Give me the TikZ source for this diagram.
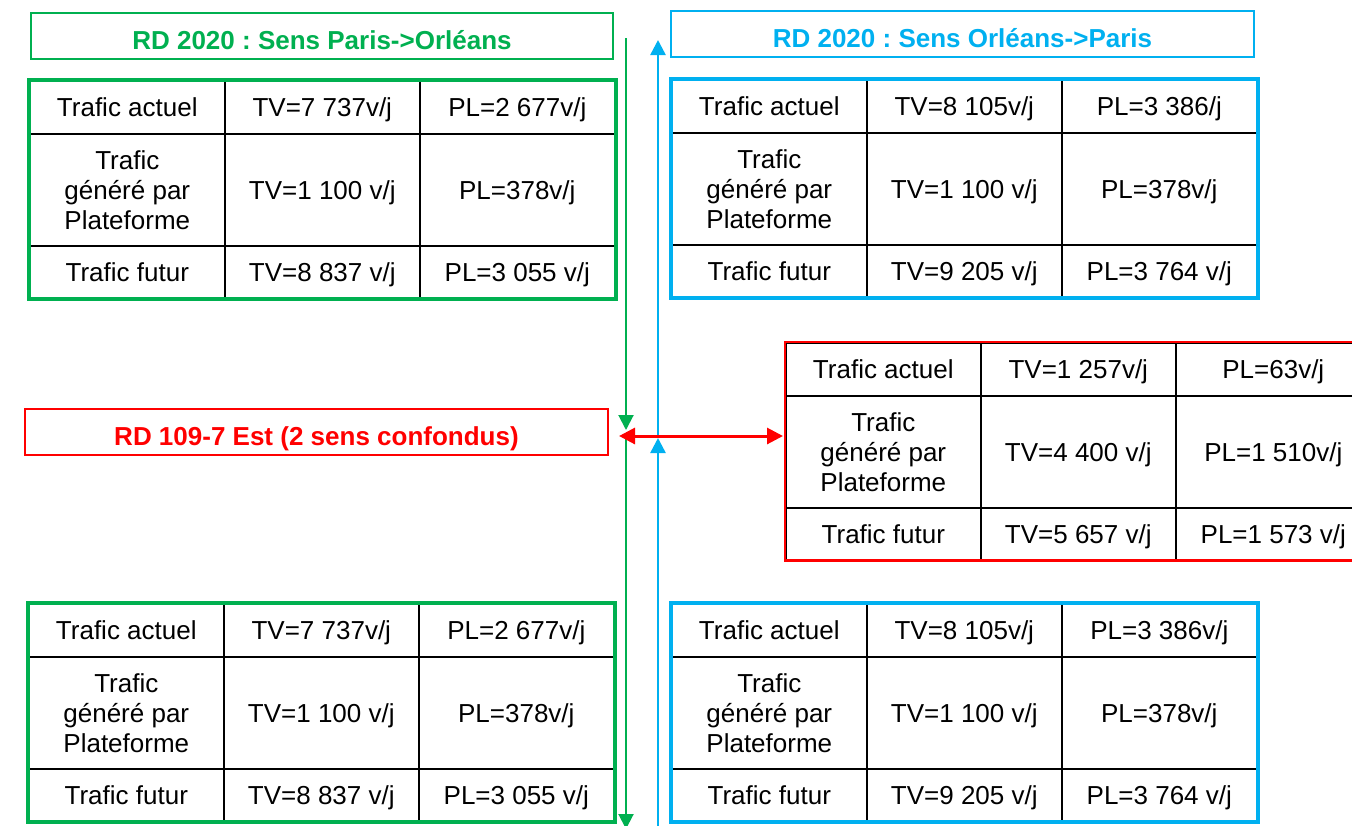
\documentclass[tikz,border=0pt]{standalone}
\usepackage{fontspec}
\setmainfont{Liberation Sans}
\usetikzlibrary{arrows.meta}
\definecolor{vert}{RGB}{0,176,80}
\definecolor{bleu}{RGB}{0,176,240}
\definecolor{rouge}{RGB}{255,0,0}
\frenchspacing
\tikzset{
  cell/.style={draw=black, line width=1.6pt, inner sep=0pt, anchor=north west, align=center,
    font=\fontsize{26}{30}\selectfont, minimum width=195pt},
  onecell/.style={cell, text depth=0pt},
  titlebox/.style={draw=#1, line width=2pt, text=#1, font=\fontsize{26}{30}\selectfont\bfseries,
    text height=26pt, text depth=0pt, minimum height=46pt, inner sep=0pt},
  garrow/.style={draw=vert, line width=2pt, -{Triangle[length=15pt,width=15pt]}},
  barrow/.style={draw=bleu, line width=2.5pt, -{Triangle[length=15pt,width=15pt]}},
  rarrow/.style={draw=rouge, line width=3pt, {Triangle[length=16pt,width=16pt]}-{Triangle[length=16pt,width=16pt]}},
}
\newcommand\trafictable[9]{%
  \begin{scope}[shift={(#3)}]
    \node[onecell, minimum height=53pt] (#1-11) at (0,0) {Trafic actuel};
    \node[onecell, minimum height=53pt] (#1-12) at (195,0) {#4};
    \node[onecell, minimum height=53pt] (#1-13) at (390,0) {#5};
    \node[cell, minimum height=112pt] (#1-21) at (0,53) {Trafic\\généré par\\Plateforme};
    \node[onecell, minimum height=112pt] (#1-22) at (195,53) {#6};
    \node[onecell, minimum height=112pt] (#1-23) at (390,53) {#7};
    \node[onecell, minimum height=52pt] (#1-31) at (0,165) {Trafic futur};
    \node[onecell, minimum height=52pt] (#1-32) at (195,165) {#8};
    \node[onecell, minimum height=52pt] (#1-33) at (390,165) {#9};
  \end{scope}
  \draw[line width=4pt, #2] (#1-11.north west) rectangle (#1-33.south east);
}
\begin{document}
\begin{tikzpicture}[x=1pt, y=-1pt]
  \useasboundingbox (0,0) rectangle (1352,825);
  \clip (0,0) rectangle (1352,825);
  \fill[white] (0,0) rectangle (1352,825);

  % titles
  \node[titlebox=vert, minimum width=582pt] (tg) at (322,36) {RD 2020 : Sens Paris->Orléans};
  \node[titlebox=bleu, minimum width=583pt] (tb) at (962.5,34) {RD 2020 : Sens Orléans->Paris};
  \node[titlebox=rouge, minimum width=583pt, line width=1.5pt] (tr) at (316.5,432) {RD 109-7 Est (2 sens confondus)};

  % tables
  \trafictable{t1}{vert}{29,80}{TV=7 737v/j}{PL=2 677v/j}{TV=1 100 v/j}{PL=378v/j}{TV=8 837 v/j}{PL=3 055 v/j}
  \trafictable{t2}{bleu}{671,79}{TV=8 105v/j}{PL=3 386/j}{TV=1 100 v/j}{PL=378v/j}{TV=9 205 v/j}{PL=3 764 v/j}
  \trafictable{t3}{rouge, line width=2.5pt}{785,342}{TV=1 257v/j}{PL=63v/j}{TV=4 400 v/j}{PL=1 510v/j}{TV=5 657 v/j}{PL=1 573 v/j}
  \trafictable{t4}{vert}{28,603}{TV=7 737v/j}{PL=2 677v/j}{TV=1 100 v/j}{PL=378v/j}{TV=8 837 v/j}{PL=3 055 v/j}
  \trafictable{t5}{bleu}{671,603}{TV=8 105v/j}{PL=3 386v/j}{TV=1 100 v/j}{PL=378v/j}{TV=9 205 v/j}{PL=3 764 v/j}

  % axes
  \coordinate (gtop) at (626,38);
  \coordinate (gtip) at (626,430);
  \coordinate (gx) at (626,436);
  \coordinate (gbot) at (626,829);
  \coordinate (bbot) at (658,826);
  \coordinate (btip) at (658,438);
  \coordinate (bx) at (658,436);
  \coordinate (btop) at (658,40);
  \coordinate (rl) at (619,436);
  \coordinate (rr) at (783,436);

  \draw[garrow] (gtop) -- (gtip);
  \draw[garrow] (gx) -- (gbot);
  \draw[barrow] (bbot) -- (btip);
  \draw[barrow] (bx) -- (btop);
  \draw[rarrow] (rl) -- (rr);
\end{tikzpicture}
\end{document}
